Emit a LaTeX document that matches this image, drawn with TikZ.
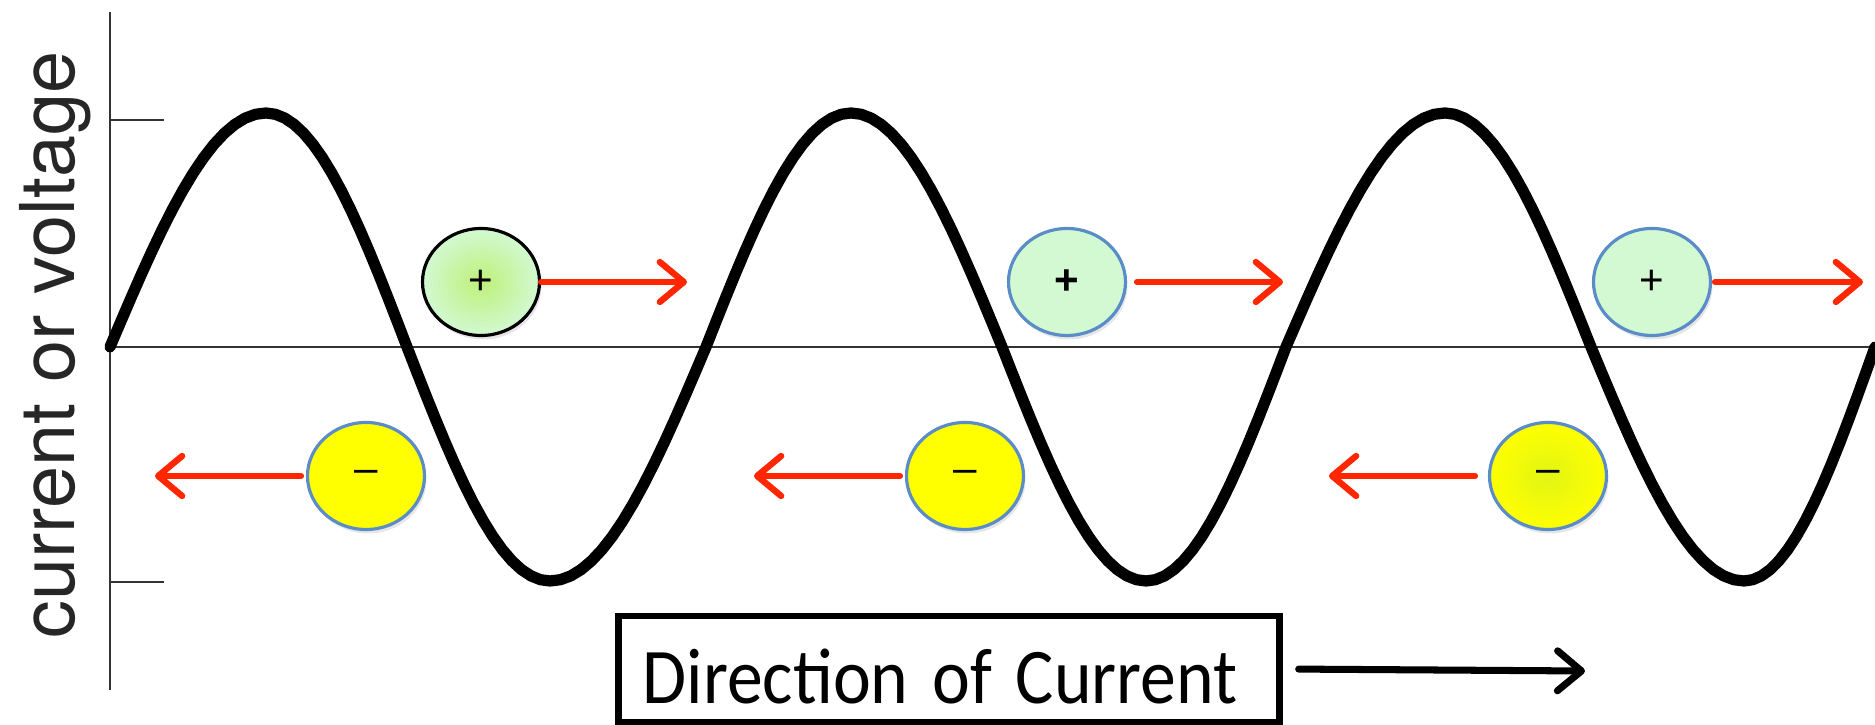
\documentclass[tikz,border=0pt]{standalone}
\usepackage{fontspec}
\newfontfamily\labelfont{TeX Gyre Heros}
\newfontfamily\boxfont{Carlito}
\newfontfamily\ionfont{Liberation Sans}
\usetikzlibrary{arrows.meta,shapes.geometric,shadows}
\definecolor{ionred}{RGB}{255,38,0}
\definecolor{iongreen}{RGB}{210,249,210}
\definecolor{glowgreen}{RGB}{190,240,120}
\definecolor{ionblue}{RGB}{90,140,200}
\definecolor{ionyellow}{RGB}{255,255,0}
\definecolor{glowyellow}{RGB}{225,245,20}
\tikzset{
  axis/.style={black!80, line width=0.8pt},
  wave/.style={black, line width=3.2pt, line join=round, line cap=round},
  ion/.style={ellipse, draw=ionblue, line width=0.9pt, minimum width=1.17cm, minimum height=1.07cm,
    inner sep=0pt, font=\ionfont\fontsize{12}{12}\selectfont,
    drop shadow={opacity=0.2, shadow xshift=0.02cm, shadow yshift=-0.04cm}},
  plusion/.style={ion, fill=iongreen},
  minusion/.style={ion, fill=ionyellow},
  ionarrow/.style={ionred, line width=1.8pt, line cap=round, -{Straight Barb[length=0.24cm, width=0.4cm, round]}},
  dirbox/.style={draw, line width=1.8pt, text width=6.13cm, inner xsep=0.24cm, inner ysep=0pt,
    minimum height=1.06cm, text height=0.7cm, text depth=0cm, align=left,
    font=\boxfont\fontsize{20.4}{20.4}\selectfont},
  dirarrow/.style={black, line width=2pt, line cap=round, -{Straight Barb[length=0.24cm, width=0.4cm, round]}}
}
\begin{document}
\begin{tikzpicture}
\useasboundingbox (0,0) rectangle (18.75,7.25);
% axes and ticks
\draw[axis] (1.10,7.13) -- (1.10,0.35);
\draw[axis] (1.10,3.78) -- (18.75,3.78);
\draw[axis] (1.10,6.05) -- (1.64,6.05);
\draw[axis] (1.10,1.43) -- (1.64,1.43);
\node[rotate=90, anchor=base, font=\labelfont\fontsize{21.5}{21.5}\selectfont, text=black!85] (ylabel) at (0.74,3.80) {current or voltage};
% the wave, one quarter at a time
\draw[wave] (1.10,3.78)
  \foreach \xa/\xb/\ph in {1.10/2.66/0, 2.66/4.07/90, 4.07/5.50/180, 5.50/7.06/270,
    7.06/8.51/0, 8.51/10.02/90, 10.02/11.46/180, 11.46/12.86/270,
    12.86/14.45/0, 14.45/15.91/90, 15.91/17.44/180, 17.44/18.75/270}
  { -- plot[domain=0:90, samples=16] ({\xa+(\xb-\xa)*\x/90}, {3.78+2.34*sin(\x+\ph)}) };
% charges
\node[plusion, draw=black, inner color=glowgreen, outer color=iongreen] (p1) at (4.81,4.43) {+};
\node[plusion, font=\ionfont\bfseries\fontsize{12}{12}\selectfont] (p2) at (10.67,4.43) {+};
\node[plusion] (p3) at (16.52,4.43) {+};
\node[minusion] (m1) at (3.66,2.49) {–};
\node[minusion] (m2) at (9.65,2.49) {–};
\node[minusion, inner color=glowyellow, outer color=ionyellow] (m3) at (15.48,2.49) {–};
\coordinate (p1tip) at (6.87,4.43);
\coordinate (p2tip) at (12.83,4.43);
\coordinate (p3tip) at (18.63,4.43);
\coordinate (m1tip) at (1.55,2.49);
\coordinate (m2tip) at (7.54,2.49);
\coordinate (m3tip) at (13.29,2.49);
\draw[ionarrow] (p1.east) -- (p1tip);
\draw[ionarrow, shorten <=0.1cm] (p2.east) -- (p2tip);
\draw[ionarrow, shorten <=0.03cm] (p3.east) -- (p3tip);
\draw[ionarrow, shorten <=0.05cm] (m1.west) -- (m1tip);
\draw[ionarrow, shorten <=0.05cm] (m2.west) -- (m2tip);
\draw[ionarrow, shorten <=0.13cm] (m3.west) -- (m3tip);
% direction box
\node[dirbox] (dir) at (9.49,0.56) {\scalebox{1}[1.1]{Direction of Current}};
\coordinate (dirtip) at (15.85,0.54);
\draw[dirarrow, shorten <=0.16cm] (dir.east) -- (dirtip);
\end{tikzpicture}
\end{document}
